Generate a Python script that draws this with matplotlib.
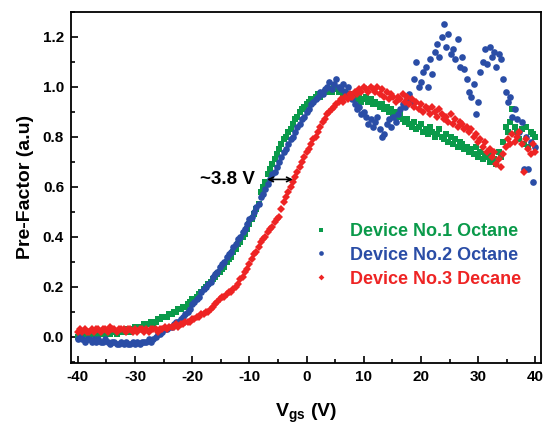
import numpy as np
import matplotlib
matplotlib.use("Agg")
import matplotlib.pyplot as plt
from matplotlib.ticker import MultipleLocator

plt.rcParams['font.family'] = ['Liberation Sans', 'DejaVu Sans']
plt.rcParams['font.weight'] = 'bold'
plt.rcParams['axes.unicode_minus'] = False
plt.rcParams['mathtext.fontset'] = 'custom'
plt.rcParams['mathtext.bf'] = 'Liberation Sans:bold'
plt.rcParams['mathtext.rm'] = 'Liberation Sans:bold'

# Gate voltage sweep (V)
vgs = np.linspace(-40, 40, 201)

green_vals = [
    0.00, 0.01, 0.00, 0.01, 0.01, 0.00, 0.01, 0.01, 0.00, 0.01,
    0.01, 0.02, 0.01, 0.02, 0.01, 0.02, 0.02, 0.01, 0.02, 0.02,
    0.02, 0.03, 0.03, 0.02, 0.03, 0.04, 0.03, 0.04, 0.04, 0.05,
    0.05, 0.05, 0.06, 0.05, 0.06, 0.07, 0.07, 0.08, 0.08, 0.08,
    0.09, 0.09, 0.10, 0.10, 0.11, 0.11, 0.12, 0.12, 0.13, 0.14,
    0.15, 0.15, 0.16, 0.17, 0.18, 0.19, 0.20, 0.21, 0.22, 0.23,
    0.24, 0.25, 0.26, 0.27, 0.28, 0.30, 0.31, 0.32, 0.34, 0.35,
    0.37, 0.38, 0.40, 0.41, 0.43, 0.45, 0.47, 0.49, 0.51, 0.53,
    0.58, 0.60, 0.62, 0.65, 0.67, 0.69, 0.71, 0.73, 0.75, 0.77,
    0.79, 0.80, 0.82, 0.83, 0.85, 0.87, 0.88, 0.90, 0.91, 0.92,
    0.93, 0.94, 0.95, 0.95, 0.96, 0.97, 0.96, 0.97, 0.98, 0.98,
    0.99, 0.98, 1.00, 0.99, 0.98, 0.99, 0.97, 0.98, 0.97, 0.96,
    0.97, 0.96, 0.95, 0.96, 0.94, 0.95, 0.96, 0.94, 0.95, 0.93,
    0.94, 0.93, 0.92, 0.93, 0.91, 0.92, 0.90, 0.91, 0.89, 0.90,
    0.88, 0.89, 0.87, 0.86, 0.87, 0.85, 0.84, 0.86, 0.83, 0.84,
    0.85, 0.82, 0.83, 0.81, 0.84, 0.82, 0.80, 0.81, 0.83, 0.80,
    0.79, 0.81, 0.78, 0.80, 0.77, 0.79, 0.76, 0.78, 0.77, 0.75,
    0.76, 0.74, 0.75, 0.73, 0.76, 0.72, 0.74, 0.71, 0.73, 0.72,
    0.70, 0.73, 0.71, 0.69, 0.74, 0.72, 0.78, 0.84, 0.82, 0.86,
    0.91, 0.84, 0.82, 0.79, 0.83, 0.77, 0.84, 0.76, 0.82, 0.81,
    0.80,
]

blue_vals = [
    -0.01, 0.00, -0.01, -0.02, -0.01, -0.01, -0.02, -0.01, -0.02, -0.01,
    -0.02, -0.02, -0.01, -0.02, -0.03, -0.02, -0.02, -0.03, -0.03, -0.02,
    -0.03, -0.02, -0.03, -0.03, -0.02, -0.03, -0.02, -0.03, -0.02, -0.02,
    -0.02, -0.01, -0.02, -0.01, 0.00, 0.01, 0.01, 0.02, 0.03, 0.03,
    0.04, 0.04, 0.05, 0.06, 0.06, 0.07, 0.08, 0.09, 0.10, 0.11,
    0.13, 0.14, 0.15, 0.16, 0.18, 0.19, 0.20, 0.21, 0.22, 0.24,
    0.25, 0.26, 0.28, 0.29, 0.30, 0.32, 0.33, 0.34, 0.36, 0.37,
    0.39, 0.40, 0.42, 0.43, 0.45, 0.47, 0.48, 0.50, 0.52, 0.53,
    0.56, 0.57, 0.59, 0.61, 0.63, 0.65, 0.66, 0.68, 0.70, 0.72,
    0.74, 0.75, 0.77, 0.79, 0.80, 0.82, 0.84, 0.85, 0.87, 0.88,
    0.90, 0.91, 0.93, 0.94, 0.95, 0.96, 0.98, 0.97, 0.99, 1.00,
    1.02, 0.99, 1.01, 1.03, 1.00, 0.99, 1.01, 0.98, 1.00, 0.97,
    0.95, 0.93, 0.91, 0.92, 0.89, 0.90, 0.88, 0.85, 0.87, 0.84,
    0.86, 0.88, 0.83, 0.80, 0.81, 0.85, 0.87, 0.84, 0.88, 0.86,
    0.89, 0.91, 0.93, 0.92, 0.95, 0.97, 0.94, 1.03, 1.10, 1.00,
    1.02, 1.06, 1.08, 1.00, 1.11, 1.05, 1.14, 1.17, 1.12, 1.20,
    1.25, 1.16, 1.21, 1.13, 1.15, 1.11, 1.19, 1.08, 1.12, 1.07,
    1.03, 0.98, 0.96, 1.01, 0.89, 0.94, 1.06, 1.10, 1.15, 1.09,
    1.16, 1.12, 1.14, 1.08, 1.13, 1.11, 1.03, 0.98, 0.94, 0.96,
    0.88, 0.91, 0.87, 0.82, 0.86, 0.67, 0.80, 0.67, 0.78, 0.62,
    0.76,
]

red_vals = [
    0.02, 0.03, 0.02, 0.03, 0.02, 0.02, 0.03, 0.02, 0.03, 0.03,
    0.02, 0.03, 0.03, 0.02, 0.04, 0.03, 0.03, 0.02, 0.03, 0.03,
    0.03, 0.02, 0.03, 0.03, 0.02, 0.03, 0.02, 0.03, 0.03, 0.02,
    0.03, 0.02, 0.03, 0.03, 0.03, 0.02, 0.03, 0.03, 0.04, 0.03,
    0.04, 0.04, 0.04, 0.05, 0.04, 0.05, 0.05, 0.06, 0.06, 0.06,
    0.07, 0.07, 0.08, 0.08, 0.09, 0.09, 0.10, 0.10, 0.11, 0.12,
    0.13, 0.14, 0.15, 0.16, 0.16, 0.17, 0.18, 0.18, 0.19, 0.20,
    0.21, 0.23, 0.24, 0.26, 0.27, 0.29, 0.31, 0.33, 0.34, 0.36,
    0.38, 0.39, 0.40, 0.42, 0.43, 0.44, 0.46, 0.47, 0.48, 0.51,
    0.54, 0.56, 0.58, 0.60, 0.62, 0.64, 0.66, 0.68, 0.70, 0.72,
    0.74, 0.75, 0.77, 0.79, 0.80, 0.82, 0.84, 0.86, 0.87, 0.89,
    0.90, 0.91, 0.92, 0.93, 0.94, 0.95, 0.94, 0.96, 0.95, 0.97,
    0.96, 0.98, 0.97, 0.99, 0.98, 1.00, 0.99, 0.98, 1.00, 0.99,
    0.98, 1.00, 0.97, 0.99, 0.96, 0.98, 0.95, 0.97, 0.96, 0.94,
    0.96, 0.95, 0.97, 0.94, 0.96, 0.93, 0.95, 0.92, 0.94, 0.91,
    0.93, 0.90, 0.92, 0.91, 0.89, 0.92, 0.90, 0.88, 0.91, 0.89,
    0.87, 0.88, 0.86, 0.89, 0.85, 0.87, 0.84, 0.86, 0.85, 0.83,
    0.84, 0.82, 0.83, 0.80, 0.81, 0.78, 0.79, 0.76, 0.78, 0.74,
    0.75, 0.72, 0.74, 0.69, 0.71, 0.68, 0.73, 0.76, 0.79, 0.77,
    0.81, 0.78, 0.80, 0.82, 0.77, 0.66, 0.79, 0.75, 0.73, 0.77,
    0.74,
]

labels = ['Device No.1 Octane', 'Device No.2 Octane', 'Device No.3 Decane']
colors = ['#0a9a4a', '#2a4da6', '#ee2424']
markers = ['s', 'o', 'D']
sizes = [4.4, 4.8, 4.2]

x_ticks = [-40, -30, -20, -10, 0, 10, 20, 30, 40]
y_ticks = [0.0, 0.2, 0.4, 0.6, 0.8, 1.0, 1.2]

fig = plt.figure(figsize=(5.44, 4.25), dpi=100)
ax = fig.add_axes([0.1305, 0.146, 0.864, 0.826])

series = [green_vals, blue_vals, red_vals]
handles = []
for vals, c, m, s, lab in zip(series, colors, markers, sizes, labels):
    h, = ax.plot(vgs, vals, linestyle='none', marker=m, markersize=s,
                 color=c, markeredgewidth=0, label=lab)
    handles.append(h)

ax.set_xlim(-41.2, 41.0)
ax.set_ylim(-0.104, 1.3)
ax.set_xticks(x_ticks)
ax.set_yticks(y_ticks)
ax.set_xticklabels([str(v) for v in x_ticks])
ax.set_yticklabels(['%.1f' % v for v in y_ticks])
ax.xaxis.set_minor_locator(MultipleLocator(5))
ax.yaxis.set_minor_locator(MultipleLocator(0.1))
ax.tick_params(which='both', direction='in', top=False, right=False,
               labelsize=11, width=1.2)
ax.tick_params(which='major', length=5, pad=5)
ax.tick_params(which='minor', length=3)
for lab in ax.get_xticklabels() + ax.get_yticklabels():
    lab.set_fontweight('bold')
for sp in ax.spines.values():
    sp.set_linewidth(1.3)

ax.set_ylabel('Pre-Factor (a.u)', fontsize=14, fontweight='bold', labelpad=6)
ax.set_xlabel(r'$\mathbf{V_{gs}}$ (V)', fontsize=14, fontweight='bold', labelpad=13)

ax.annotate('', xy=(-6.9, 0.63), xytext=(-2.4, 0.63),
            arrowprops=dict(arrowstyle='<->', color='black', lw=1.2,
                            shrinkA=0, shrinkB=0, mutation_scale=8))
ax.text(-9.1, 0.628, '~3.8 V', fontsize=13.5, fontweight='bold',
        ha='right', va='center')

leg = ax.legend(handles=handles, loc='upper left', bbox_to_anchor=(0.49, 0.435),
                frameon=False, fontsize=13, markerscale=0.7, handlelength=0.8,
                handletextpad=1.2, labelspacing=0.38, borderpad=0.2)
for t, c in zip(leg.get_texts(), colors):
    t.set_color(c)
    t.set_fontweight('bold')

fig.savefig('out.png', dpi=100)
